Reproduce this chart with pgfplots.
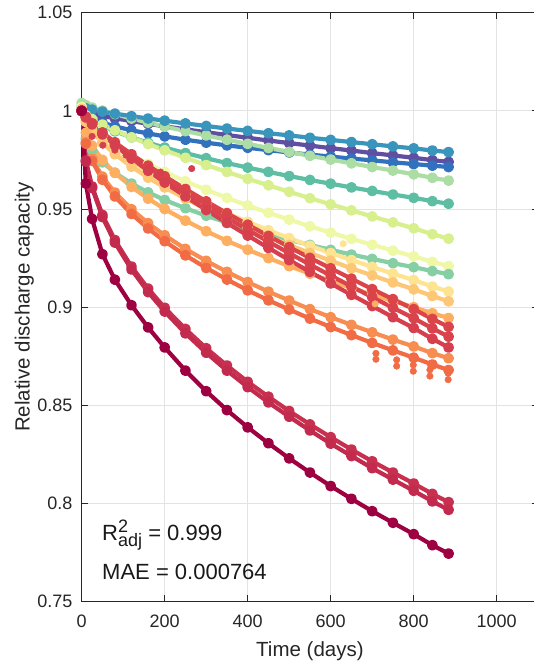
\documentclass[border=0pt]{standalone}
\usepackage{pgfplots}
\pgfplotsset{compat=1.18}
\usepackage{pgfplotstable}
\usepackage{fontspec}
\setmainfont{Liberation Sans}

% Spectral-type palette, one colour per cell
\definecolor{cTB}{HTML}{3A95BC}
\definecolor{cPU}{HTML}{5E4FA2}
\definecolor{cBL}{HTML}{3271BE}
\definecolor{cLG}{HTML}{ABDDA4}
\definecolor{cTG}{HTML}{5DBEA3}
\definecolor{cYG}{HTML}{D8EF8E}
\definecolor{cPY}{HTML}{EFF8A6}
\definecolor{cMI}{HTML}{86CFA4}
\definecolor{cLY}{HTML}{FEE391}
\definecolor{cLO}{HTML}{FDC776}
\definecolor{cOR}{HTML}{FDAE61}
\definecolor{cOT}{HTML}{F88D52}
\definecolor{cORR}{HTML}{F16B44}
\definecolor{cRA}{HTML}{DB4549}
\definecolor{cRB}{HTML}{D9434B}
\definecolor{cRC}{HTML}{D63F4E}
\definecolor{cCA}{HTML}{C8304F}
\definecolor{cCB}{HTML}{C22A4E}
\definecolor{cDC}{HTML}{9E0142}

% relative discharge capacity of each cell over storage time (days)
\pgfplotstableread{
t    tb     pu     bl     lg     tg     yg     py     mi     ly     lo     or     ot     orr    ra     rb     rc     ca     cb     dc
0    1.0019 1.0000 1.0010 1.0040 1.0010 1.0000 1.0020 1.0000 1.0010 1.0010 1.0000 1.0000 1.0000 1.0000 1.0000 1.0000 1.0000 1.0000 1.0000
10   1.0013 0.9993 0.9979 1.0029 0.9977 0.9977 0.9965 0.9857 0.9947 0.9944 0.9888 0.9840 0.9833 0.9970 0.9968 0.9967 0.9747 0.9742 0.9630
25   1.0006 0.9985 0.9960 1.0017 0.9953 0.9958 0.9925 0.9799 0.9901 0.9895 0.9823 0.9756 0.9745 0.9937 0.9934 0.9931 0.9615 0.9607 0.9450
50   0.9996 0.9974 0.9940 1.0001 0.9924 0.9930 0.9876 0.9738 0.9845 0.9836 0.9750 0.9665 0.9649 0.9890 0.9885 0.9880 0.9470 0.9459 0.9270
80   0.9986 0.9962 0.9921 0.9983 0.9896 0.9901 0.9829 0.9685 0.9791 0.9779 0.9684 0.9584 0.9564 0.9840 0.9833 0.9825 0.9342 0.9329 0.9140
120  0.9973 0.9948 0.9901 0.9961 0.9865 0.9865 0.9776 0.9630 0.9731 0.9716 0.9613 0.9499 0.9475 0.9779 0.9769 0.9757 0.9207 0.9192 0.9010
160  0.9961 0.9934 0.9885 0.9940 0.9838 0.9831 0.9730 0.9585 0.9678 0.9660 0.9553 0.9428 0.9401 0.9721 0.9709 0.9695 0.9095 0.9077 0.8897
200  0.9950 0.9921 0.9870 0.9920 0.9813 0.9799 0.9689 0.9546 0.9630 0.9610 0.9500 0.9366 0.9336 0.9667 0.9652 0.9635 0.8997 0.8978 0.8795
250  0.9936 0.9906 0.9853 0.9897 0.9785 0.9761 0.9641 0.9504 0.9576 0.9553 0.9441 0.9297 0.9264 0.9602 0.9584 0.9564 0.8889 0.8867 0.8677
300  0.9923 0.9891 0.9838 0.9875 0.9759 0.9724 0.9598 0.9466 0.9526 0.9500 0.9387 0.9236 0.9200 0.9539 0.9518 0.9495 0.8791 0.8768 0.8572
350  0.9910 0.9877 0.9824 0.9853 0.9734 0.9689 0.9557 0.9431 0.9479 0.9450 0.9338 0.9180 0.9141 0.9479 0.9455 0.9429 0.8703 0.8677 0.8476
400  0.9898 0.9863 0.9812 0.9832 0.9711 0.9654 0.9518 0.9400 0.9435 0.9404 0.9293 0.9128 0.9086 0.9420 0.9394 0.9365 0.8620 0.8593 0.8388
450  0.9886 0.9849 0.9800 0.9811 0.9689 0.9621 0.9481 0.9370 0.9392 0.9359 0.9250 0.9079 0.9035 0.9363 0.9334 0.9302 0.8544 0.8515 0.8307
500  0.9875 0.9836 0.9788 0.9791 0.9668 0.9588 0.9446 0.9343 0.9352 0.9317 0.9209 0.9034 0.8988 0.9306 0.9275 0.9240 0.8471 0.8442 0.8230
550  0.9863 0.9823 0.9777 0.9771 0.9648 0.9555 0.9412 0.9317 0.9313 0.9276 0.9171 0.8990 0.8942 0.9251 0.9217 0.9180 0.8403 0.8372 0.8158
600  0.9852 0.9810 0.9767 0.9752 0.9629 0.9524 0.9380 0.9292 0.9276 0.9237 0.9134 0.8949 0.8899 0.9198 0.9161 0.9121 0.8338 0.8305 0.8089
650  0.9841 0.9798 0.9757 0.9733 0.9610 0.9493 0.9348 0.9268 0.9240 0.9198 0.9098 0.8910 0.8858 0.9145 0.9106 0.9063 0.8275 0.8242 0.8024
700  0.9830 0.9785 0.9748 0.9714 0.9592 0.9462 0.9318 0.9246 0.9205 0.9162 0.9064 0.8872 0.8818 0.9092 0.9051 0.9006 0.8215 0.8180 0.7961
750  0.9819 0.9773 0.9738 0.9696 0.9574 0.9432 0.9288 0.9224 0.9171 0.9126 0.9032 0.8835 0.8780 0.9041 0.8997 0.8949 0.8158 0.8122 0.7902
800  0.9809 0.9761 0.9729 0.9677 0.9557 0.9402 0.9259 0.9204 0.9138 0.9091 0.9000 0.8800 0.8743 0.8990 0.8944 0.8894 0.8102 0.8065 0.7844
845  0.9798 0.9749 0.9721 0.9659 0.9540 0.9372 0.9231 0.9184 0.9105 0.9057 0.8969 0.8766 0.8708 0.8940 0.8892 0.8839 0.8049 0.8011 0.7788
884  0.9790 0.9740 0.9714 0.9645 0.9527 0.9349 0.9209 0.9168 0.9080 0.9030 0.8945 0.8740 0.8680 0.8900 0.8850 0.8795 0.8007 0.7968 0.7745
}\capacity

\pgfplotsset{
  cell/.style={draw=#1, line width=4.2pt, line join=round,
    mark=*, mark size=3.3pt, mark options={draw=none, fill=#1}},
  spots/.style={color=#1, only marks, mark=*, mark size=3.3pt,
    mark options={draw=none, fill=#1}},
}

\begin{document}
\begin{tikzpicture}
\begin{axis}[
  scale only axis,
  width=456.5pt, height=589pt,
  xmin=0, xmax=1100, ymin=0.75, ymax=1.05,
  xtick={0,200,400,600,800,1000},
  xticklabels={0,200,400,600,800,1000},
  ytick={0.75,0.8,0.85,0.9,0.95,1,1.05},
  yticklabels={0.75,0.8,0.85,0.9,0.95,1,1.05},
  tick align=inside, major tick length=6.5pt,
  grid=major,
  major grid style={black!11, line width=0.9pt},
  axis line style={black!85, line width=0.9pt},
  tick style={black!85, line width=0.9pt},
  ticklabel style={font=\fontsize{18}{20}\selectfont, text=black!85},
  xticklabel style={inner sep=0pt, anchor=north, yshift=-12.8pt},
  yticklabel style={inner sep=0pt, anchor=east, xshift=-9pt},
  label style={font=\fontsize{20.5}{24}\selectfont, text=black!85},
  xlabel={Time (days)},
  ylabel={Relative discharge capacity},
  xlabel style={at={(axis description cs:0.5,-0.0930)}, anchor=base},
  ylabel style={at={(axis description cs:-0.1139,0.5)}, anchor=base},
]
\addplot[cell=cPU]  table[x=t, y=pu]  {\capacity};
\addplot[cell=cBL]  table[x=t, y=bl]  {\capacity};
\addplot[cell=cLG]  table[x=t, y=lg]  {\capacity};
\addplot[cell=cTB]  table[x=t, y=tb]  {\capacity};
\addplot[cell=cTG]  table[x=t, y=tg]  {\capacity};
\addplot[cell=cYG]  table[x=t, y=yg]  {\capacity};
\addplot[cell=cPY]  table[x=t, y=py]  {\capacity};
\addplot[cell=cMI]  table[x=t, y=mi]  {\capacity};
\addplot[cell=cLY]  table[x=t, y=ly]  {\capacity};
\addplot[cell=cLO]  table[x=t, y=lo]  {\capacity};
\addplot[cell=cOR]  table[x=t, y=or]  {\capacity};
\addplot[cell=cOT]  table[x=t, y=ot]  {\capacity};
\addplot[cell=cORR] table[x=t, y=orr] {\capacity};
\addplot[cell=cRA]  table[x=t, y=ra]  {\capacity};
\addplot[cell=cRB]  table[x=t, y=rb]  {\capacity};
\addplot[cell=cRC]  table[x=t, y=rc]  {\capacity};
\addplot[cell=cCA]  table[x=t, y=ca]  {\capacity};
\addplot[cell=cCB]  table[x=t, y=cb]  {\capacity};
\addplot[cell=cDC]  table[x=t, y=dc]  {\capacity};

% scattered readings off the fitted trends
\addplot[spots=cLY] coordinates {(630,0.9323)};
\addplot[spots=cOR] coordinates {(707,0.9017)};
\addplot[spots=cRC] coordinates {
  (25,0.9870) (51,0.9825) (80,0.9800) (107,0.9774) (136,0.9742)
  (164,0.9714) (190,0.9688) (265,0.9706)};
\addplot[spots=cORR] coordinates {
  (709,0.8765) (709,0.8735) (759,0.8732) (759,0.8700) (799,0.8706)
  (799,0.8674) (839,0.8681) (839,0.8649) (883,0.8663) (883,0.8631)};

\node[anchor=base west, inner sep=0pt, text=black!90,
      font=\fontsize{22}{26}\selectfont] at (axis cs:49,0.7813)
  {R\rlap{\raisebox{0.36em}{\fontsize{18}{18}\selectfont 2}}\raisebox{-0.27em}{\fontsize{18}{18}\selectfont adj} = 0.999};
\node[anchor=base west, inner sep=0pt, text=black!90,
      font=\fontsize{22}{26}\selectfont] at (axis cs:49,0.7612)
  {MAE = 0.000764};
\end{axis}
\pgfresetboundingbox
\useasboundingbox (-81.7pt,-59.3pt) rectangle (452.3pt,601.7pt);
\end{tikzpicture}
\end{document}
